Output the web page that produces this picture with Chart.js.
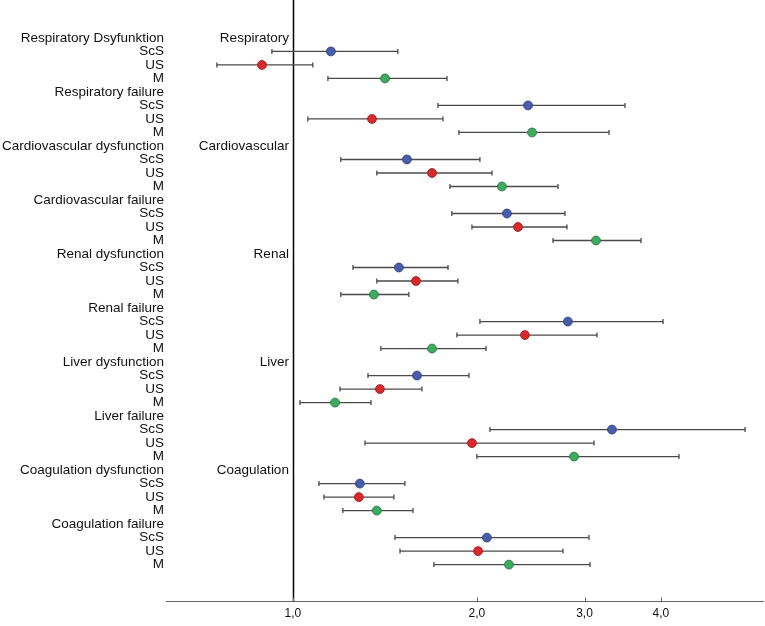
<!DOCTYPE html>
<html>
<head>
<meta charset="utf-8">
<script src="https://cdn.jsdelivr.net/npm/chart.js@4/dist/chart.umd.min.js"></script>
<style>
html,body{margin:0;padding:0;background:#fff;}
#wrap{width:765px;height:626px;position:relative;}
</style>
</head>
<body>
<div id="wrap"><canvas id="c"></canvas></div>
<script>
// ---- Data ----
const outcomes = ["Respiratory Dsyfunktion","Respiratory failure","Cardiovascular dysfunction","Cardiovascular failure","Renal dysfunction","Renal failure","Liver dysfunction","Liver failure","Coagulation dysfunction","Coagulation failure"];
const groups = ["ScS","US","M"];
const systems = ["Respiratory","Cardiovascular","Renal","Liver","Coagulation"];

const scsEst  = [1.154, 2.425, 1.537, 2.240, 1.491, 2.818, 1.596, 3.327, 1.287, 2.077];
const scsLow  = [0.924, 1.727, 1.198, 1.820, 1.254, 2.023, 1.327, 2.101, 1.103, 1.469];
const scsHigh = [1.485, 3.494, 2.023, 2.787, 1.794, 4.033, 1.941, 5.493, 1.525, 3.051];

const usEst   = [0.890, 1.347, 1.689, 2.335, 1.590, 2.397, 1.388, 1.963, 1.282, 2.009];
const usLow   = [0.751, 1.058, 1.372, 1.963, 1.372, 1.855, 1.194, 1.312, 1.124, 1.497];
const usHigh  = [1.078, 1.760, 2.117, 2.808, 1.862, 3.145, 1.626, 3.109, 1.463, 2.766];

const mEst    = [1.415, 2.462, 2.198, 3.133, 1.357, 1.689, 1.172, 2.884, 1.372, 2.257];
const mLow    = [1.141, 1.869, 1.807, 2.664, 1.198, 1.393, 1.027, 2.000, 1.207, 1.701];
const mHigh   = [1.787, 3.290, 2.715, 3.712, 1.548, 2.070, 1.342, 4.283, 1.572, 3.063];

const xTicks = [1, 2, 3, 4];
const xTickLabels = ["1,0", "2,0", "3,0", "4,0"];

// ---- Build rows ----
const rows = [];
outcomes.forEach(o => { rows.push(o); groups.forEach(g => rows.push(g)); });

const series = [
  {est: scsEst, lo: scsLow, hi: scsHigh, fill: '#4b5ca9', edge: '#33448a'},
  {est: usEst,  lo: usLow,  hi: usHigh,  fill: '#d62a2c', edge: '#b01f22'},
  {est: mEst,   lo: mLow,   hi: mHigh,   fill: '#3eab5e', edge: '#2b7d44'}
];

const datasets = [];
series.forEach((s, g) => {
  datasets.push({
    label: groups[g],
    data: s.est.map((v, i) => ({x: v, y: 4*i + 1 + g})),
    backgroundColor: s.fill,
    borderColor: s.edge,
    borderWidth: 1,
    pointRadius: 4.4,
    order: 0
  });
});
series.forEach((s, g) => {
  s.est.forEach((v, i) => {
    const r = 4*i + 1 + g;
    datasets.push({
      label: 'ci',
      data: [{x: s.lo[i], y: r}, {x: s.hi[i], y: r}],
      showLine: true,
      borderColor: '#4a4a4a',
      borderWidth: 1.3,
      pointStyle: 'line',
      pointRotation: 90,
      pointRadius: 2.5,
      pointBorderColor: '#4a4a4a',
      pointBorderWidth: 1.3,
      order: 1
    });
  });
});

const deco = {
  id: 'deco',
  beforeDatasetsDraw(chart) {
    const {ctx, chartArea, scales: {x}} = chart;
    const x1 = Math.round(x.getPixelForValue(1)) + 0.5;
    ctx.save();
    ctx.strokeStyle = '#000';
    ctx.lineWidth = 1.5;
    ctx.beginPath();
    ctx.moveTo(x1, chartArea.top);
    ctx.lineTo(x1, chartArea.bottom);
    ctx.stroke();
    ctx.strokeStyle = '#666';
    ctx.lineWidth = 1;
    xTicks.forEach(v => {
      const px = Math.round(x.getPixelForValue(v)) + 0.5;
      ctx.beginPath();
      ctx.moveTo(px, chartArea.bottom - 4);
      ctx.lineTo(px, chartArea.bottom);
      ctx.stroke();
    });
    ctx.restore();
  },
  afterDraw(chart) {
    const {ctx, chartArea, scales: {x, y}} = chart;
    ctx.save();
    ctx.font = '13.5px "Liberation Sans", Arial, sans-serif';
    ctx.fillStyle = '#111';
    ctx.textAlign = 'right';
    ctx.textBaseline = 'middle';
    rows.forEach((lab, r) => {
      ctx.fillText(lab, chartArea.left - 2, y.getPixelForValue(r));
    });
    const x1 = x.getPixelForValue(1);
    systems.forEach((s, k) => {
      ctx.fillText(s, x1 - 4, y.getPixelForValue(8*k));
    });
    ctx.restore();
  }
};

new Chart(document.getElementById('c'), {
  type: 'scatter',
  data: {datasets},
  options: {
    responsive: true,
    maintainAspectRatio: false,
    animation: false,
    layout: {autoPadding: false, padding: {left: 166, right: 2, top: 0, bottom: 0}},
    plugins: {legend: {display: false}, tooltip: {enabled: false}},
    scales: {
      x: {
        type: 'logarithmic',
        bounds: 'data',
        min: 0.62,
        max: 5.877,
        grid: {display: false, drawTicks: false},
        border: {display: true, color: '#666', width: 1},
        afterBuildTicks: s => { s.ticks = xTicks.map(v => ({value: v})); },
        ticks: {
          autoSkip: false,
          maxRotation: 0,
          padding: 5,
          color: '#111',
          font: {family: '"Liberation Sans", Arial, sans-serif', size: 12},
          callback: (v, i) => xTickLabels[i]
        }
      },
      y: {
        type: 'linear',
        display: false,
        reverse: true,
        min: -2.81,
        max: 41.74
      }
    }
  },
  plugins: [deco]
});
</script>
</body>
</html>
